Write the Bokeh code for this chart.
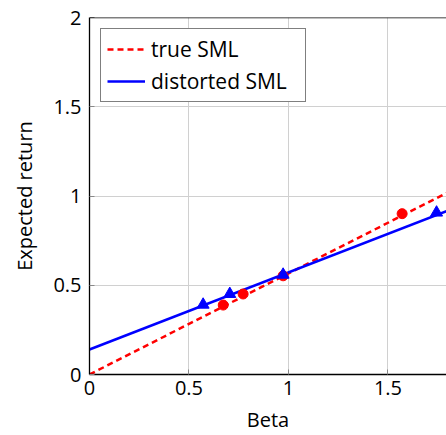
from bokeh.plotting import figure
from bokeh.models import Range1d, Legend, LegendItem, FixedTicker, Span
from bokeh.embed import file_html
from bokeh.resources import INLINE

# data
line_x = [0.0, 1.8]
true_sml = [0.0, 1.02]          # y values of the true SML at line_x
distorted_sml = [0.14, 0.918]   # y values of the distorted SML at line_x
circle_beta = [0.672, 0.772, 0.973, 1.571]
circle_ret = [0.389, 0.451, 0.553, 0.901]
tri_beta = [0.571, 0.705, 0.973, 1.744]
tri_ret = [0.391, 0.451, 0.559, 0.907]
x_ticks = [0, 0.5, 1, 1.5]
y_ticks = [0, 0.5, 1, 1.5, 2]

FONT = "Open Sans"

p = figure(width=446, height=435, output_backend="svg", toolbar_location=None,
           x_range=Range1d(0, 1.794), y_range=Range1d(0, 2),
           min_border_left=89, min_border_top=17, min_border_bottom=60, min_border_right=0)
p.outline_line_color = None
p.background_fill_color = "white"
p.border_fill_color = "white"

for ax, ticks in ((p.xaxis[0], x_ticks), (p.yaxis[0], y_ticks)):
    ax.ticker = FixedTicker(ticks=ticks)
    ax.major_tick_in = 5
    ax.major_tick_out = 0
    ax.minor_tick_line_color = None
    ax.major_tick_line_color = "#888888"
    ax.axis_line_color = "black"
    ax.axis_line_width = 1.3
    ax.major_label_text_font = FONT
    ax.major_label_text_font_size = "20px"
    ax.major_label_text_color = "black"
    ax.axis_label_text_font = FONT
    ax.axis_label_text_font_size = "20px"
    ax.axis_label_text_font_style = "normal"
    ax.axis_label_text_color = "black"

p.xaxis.axis_label = "Beta"
p.yaxis.axis_label = "Expected return"
p.xaxis.major_label_standoff = 6
p.yaxis.major_label_standoff = 8
p.xaxis.axis_label_standoff = 8
p.yaxis.axis_label_standoff = 12
p.xaxis.major_label_overrides = {0: "0", 0.5: "0.5", 1: "1", 1.5: "1.5"}
p.yaxis.major_label_overrides = {0: "0", 0.5: "0.5", 1: "1", 1.5: "1.5", 2: "2"}

p.xgrid.ticker = FixedTicker(ticks=x_ticks)
p.ygrid.ticker = FixedTicker(ticks=y_ticks)
p.grid.grid_line_color = "#d0d0d0"
p.grid.grid_line_width = 1

p.add_layout(Span(location=2, dimension="width", line_color="black", line_width=1.3))

r_true = p.line(line_x, true_sml, line_color="red", line_width=2.5, line_dash="6 4")
r_dist = p.line(line_x, distorted_sml, line_color="blue", line_width=2.5)
p.scatter(circle_beta, circle_ret, marker="circle", size=10, fill_color="red", line_color="red")
p.scatter(tri_beta, tri_ret, marker="triangle", size=12, fill_color="blue", line_color="blue")

legend = Legend(items=[LegendItem(label="true SML", renderers=[r_true]),
                       LegendItem(label="distorted SML", renderers=[r_dist])],
                location="top_left")
legend.label_text_font = FONT
legend.label_text_font_size = "21px"
legend.label_text_color = "black"
legend.border_line_color = "black"
legend.border_line_width = 1
legend.margin = 11
legend.padding = 6
legend.spacing = 4
legend.glyph_width = 38
legend.label_standoff = 6
legend.label_width = 148
legend.background_fill_alpha = 1
p.add_layout(legend, "center")

open("out.html", "w").write(file_html(p, INLINE))
